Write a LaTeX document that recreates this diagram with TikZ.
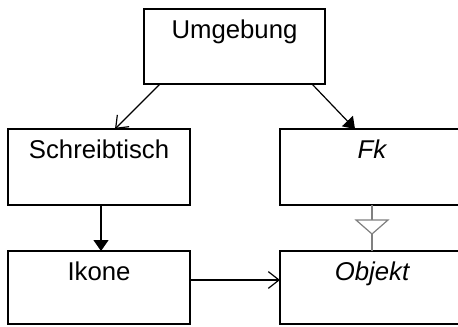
\documentclass[tikz,border=0pt]{standalone}
\usepackage{fontspec}
\setmainfont{Liberation Sans}
\usetikzlibrary{arrows.meta,calc}
\def\px{0.75pt}
\definecolor{inhgray}{RGB}{128,128,128}
\tikzset{
  box/.style={draw=black, line width=1.1pt, rectangle, inner sep=0pt, outer sep=0pt, minimum height=76*\px},
  lbl/.style={anchor=base, inner sep=0pt, font=\fontsize{19.3}{23}\selectfont},
  conn/.style={draw=black, line width=0.9pt},
  filledtip/.style={-{Triangle[length=8.25pt,width=11.25pt]}},
  opentip/.style={-{Straight Barb[length=8pt,width=12.5pt,line width=0.9pt]}},
}
\begin{document}
\begin{tikzpicture}[x=\px,y=-\px]
\useasboundingbox (0,0) rectangle (458,326);
% boxes
\node[box, minimum width=181*\px, minimum height=75*\px] (umg) at (234.5,46.5) {};
\node[box, minimum width=182*\px] (sch) at (99,167) {};
\node[box, minimum width=184*\px] (fk) at (372,167) {};
\node[box, minimum width=182*\px, minimum height=73*\px] (iko) at (99,287.5) {};
\node[box, minimum width=184*\px, minimum height=73*\px] (obj) at (372,287.5) {};
% labels
\node[lbl] (umgt) at ($(umg.north)+(0,29)$) {Umgebung};
\node[lbl] (scht) at ($(sch.north)+(0,29)$) {Schreibtisch};
\node[lbl] (fkt) at ($(fk.north)+(0,29)$) {\itshape Fk};
\node[lbl] (ikot) at ($(iko.north)+(0,29)$) {Ikone};
\node[lbl] (objt) at ($(obj.north)+(0,29)$) {\itshape Objekt};
% connectors
\coordinate (a1) at ($(umg.south west)+(16,0)$);
\coordinate (a2) at ($(sch.north)+(16,0)$);
\draw[conn, opentip] (a1) -- (a2);
\coordinate (b1) at ($(umg.south east)+(-13,0)$);
\coordinate (b2) at ($(fk.north)+(-17,0)$);
\draw[conn, filledtip] (b1) -- (b2);
\draw[conn, filledtip] ($(sch.south)+(2,0)$) -- ($(iko.north)+(2,0)$);
\coordinate (c1) at ($(iko.east)+(0,-7.5)$);
\coordinate (c2) at ($(obj.west)+(0,-7.5)$);
\draw[conn, opentip] (c1) -- (c2);
% inheritance
\draw[inhgray, line width=0.9pt] (fk.south) -- (obj.north);
\draw[inhgray, line width=0.9pt, fill=white, line join=miter]
  ($(fk.south)+(-16,15)$) -- ($(fk.south)+(16,15)$) -- ($(fk.south)+(0,29)$) -- cycle;
\end{tikzpicture}
\end{document}
